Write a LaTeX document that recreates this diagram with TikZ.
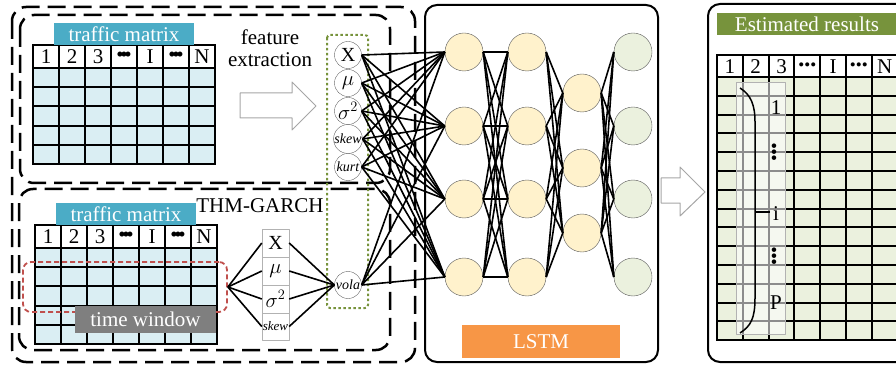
\documentclass[tikz,border=0pt]{standalone}
\usepackage{fontspec}
\setmainfont{Liberation Serif}
\usepackage{xcolor}
\usetikzlibrary{arrows.meta, positioning, calc}
\definecolor{tmblue}{HTML}{4BACC6}
\definecolor{cellblue}{HTML}{DAEEF3}
\definecolor{cellgreen}{HTML}{EBF1DE}
\definecolor{olivegreen}{HTML}{77933C}
\definecolor{lstmorange}{HTML}{F79646}
\definecolor{nodeyellow}{HTML}{FFF2CC}
\definecolor{winred}{HTML}{C0504D}
\definecolor{tagray}{HTML}{7F7F7F}
\newcommand{\dashbar}{\textbullet\kern-.16em\textbullet\kern-.16em\textbullet}
\newcommand{\dotrow}{{\fontsize{17}{17}\selectfont\textbullet\textbullet\textbullet}}
\newcommand{\dotcol}{{\fontsize{19}{19}\selectfont\rotatebox{90}{\textbullet\kern-.05em\textbullet\kern-.05em\textbullet}}}

\begin{document}
\begin{tikzpicture}[x=1pt, y=-1pt, line join=round,
  txt/.style={font=\fontsize{21}{22}\selectfont, inner sep=0pt},
  tag/.style={txt, text=white, minimum height=22pt},
  gridline/.style={line width=2pt, line cap=rect},
  frame/.style={dash pattern=on 18pt off 8pt, line width=2.5pt, rounded corners=14pt},
  feat/.style={circle, draw=gray!80!black, fill=white, minimum size=27pt, inner sep=0pt},
  sbox/.style={draw=gray!60, fill=white, minimum width=27pt, minimum height=28pt, inner sep=0pt},
  neuron/.style={circle, draw=gray!70!black, fill=nodeyellow, minimum size=38pt, inner sep=0pt},
  outn/.style={neuron, fill=cellgreen},
  wire/.style={line width=1.6pt},
  hollow/.style={draw=gray!70, fill=white, line width=1pt}]
  \useasboundingbox (0,0) rectangle (896,366);
  \clip (0,0) rectangle (896,366);

  % Dashed frames
  \draw[frame] (12,7) rectangle (415,362);
  \draw[frame] (20,15) rectangle (390,183);
  \draw[frame] (19,189) rectangle (390,350);

  % Traffic matrices
  \foreach \dx/\dy/\k in {0/0/a, 2/180/b} {
    \begin{scope}[shift={(\dx,\dy)}]
      \fill[cellblue] (33,68) rectangle (215,164);
      \foreach \i in {0,...,7} \draw[gridline] (33+\i*26,45) -- (33+\i*26,164);
      \foreach \j in {0,...,5} \draw[gridline] (33,68+\j*19.2) -- (215,68+\j*19.2);
      \draw[gridline] (33,45) -- (215,45);
      \foreach \t [count=\i from 0] in {1,2,3,\dashbar,I,\dashbar,N}
        \node[txt] (h\k-\i) at (46+\i*26,57) {\t};
      \node[tag, fill=tmblue, minimum width=140pt] (tm\k) at (124,34) {traffic matrix};
    \end{scope}
  }
  \node[txt] (fe) at (270,48) [align=center] {feature\\extraction};
  \node[txt] (garch) at (260,206) {THM-GARCH};

  % Time window
  \node[draw=winred, line width=1.8pt, dash pattern=on 5pt off 3pt, rounded corners=8pt,
        minimum width=204pt, minimum height=50pt] (twin) at (125,287) {};
  \node[tag, fill=tagray, minimum width=141pt, minimum height=27pt] (tw) at (145.5,319.5) {time window};

  % Hollow arrows
  \draw[hollow] (240,93) -- (292,93) -- (292,82) -- (316,106) -- (292,130) -- (292,118) -- (240,118) -- cycle;
  \draw[hollow] (661,178) -- (680,178) -- (680,167) -- (705,192) -- (680,216) -- (680,203) -- (661,203) -- cycle;

  % Feature boxes of THM-GARCH
  \node[sbox] (sX) at (275.5,243) {\fontsize{20}{20}\selectfont X};
  \node[sbox] (sMu) at (275.5,271) {\fontsize{20}{20}\selectfont$\mu$};
  \node[sbox] (sSig) at (275.5,299) {\fontsize{20}{20}\selectfont$\sigma^2$};
  \node[sbox, minimum height=27pt] (sSkew) at (275.5,326.5) {\fontsize{13}{13}\selectfont\textit{skew}};

  % Input features
  \draw[olivegreen, line width=2pt, dash pattern=on 2.5pt off 2.5pt, rounded corners=3pt] (327,35) rectangle (368,308);
  \node[feat] (fX) at (348,55) {\fontsize{20}{20}\selectfont X};
  \node[feat] (fMu) at (348,83) {\fontsize{20}{20}\selectfont$\mu$};
  \node[feat] (fSig) at (348,111) {\fontsize{20}{20}\selectfont$\sigma^2$};
  \node[feat] (fSkew) at (348,139) {\fontsize{14}{14}\selectfont\textit{skew}};
  \node[feat] (fKurt) at (348,167) {\fontsize{14}{14}\selectfont\textit{kurt}};
  \node[feat] (vola) at (348,285) {\fontsize{14}{14}\selectfont\textit{vola}};

  \foreach \b in {sX,sMu,sSig,sSkew} {
    \draw[wire] (twin.east) -- (\b.west);
    \draw[wire] (\b.east) -- (vola.west);
  }

  % LSTM
  \draw[line width=2pt, rounded corners=12pt] (425,5) rectangle (658,362);
  \node[tag, fill=lstmorange, minimum width=158pt, minimum height=33pt] (lstm) at (541,341.5) {LSTM};
  \foreach \y [count=\i] in {52,126,199,277} {
    \node[neuron] (l1-\i) at (464,\y) {};
    \node[neuron] (l2-\i) at (527,\y) {};
    \node[outn] (o-\i) at (633,\y) {};
  }
  \foreach \y [count=\i] in {93,168,233} \node[neuron] (l3-\i) at (582,\y) {};

  \foreach \a in {fX,fMu,fSig,fSkew,fKurt,vola}
    \foreach \b in {1,...,4} \draw[wire] (\a.east) -- (l1-\b.west);
  \foreach \a in {1,...,4}
    \foreach \b in {1,...,4} \draw[wire] (l1-\a.east) -- (l2-\b.west);
  \foreach \a in {1,...,4}
    \foreach \b in {1,...,3} \draw[wire] (l2-\a.east) -- (l3-\b.west);
  \foreach \a in {1,...,3}
    \foreach \b in {1,...,4} \draw[wire] (l3-\a.east) -- (o-\b.west);

  % Estimated results
  \draw[line width=2pt, rounded corners=12pt] (708,4) rectangle (920,362);
  \node[tag, fill=olivegreen, minimum width=180pt] (est) at (807,24) {Estimated results};
  \fill[cellgreen] (717,77) rectangle (897.6,340.2);
  \foreach \i in {0,...,7} \draw[gridline] (717+\i*25.8,55) -- (717+\i*25.8,340.2);
  \foreach \j in {0,...,14} \draw[gridline] (717,77+\j*18.8) -- (897.6,77+\j*18.8);
  \draw[gridline] (717,55) -- (897.6,55);
  \foreach \t [count=\i from 0] in {1,2,3,\dotrow,I,\dotrow,N}
    \node[txt] (e-\i) at (729.9+\i*25.8,67) {\t};

  \draw[gray!60, fill=white, fill opacity=.55, line width=1pt] (736,83) rectangle (785,334);
  \draw[line width=1.5pt] (740,88) .. controls (751,95) and (755,105) .. (755,122) -- (755,298)
    .. controls (755,318) and (751,326) .. (740,333);
  \coordinate (tip) at (755,212);
  \node[txt] (r1) at (776,108) {1};
  \node[txt] (rd1) at (776,152) {\dotcol};
  \node[txt] (ri) at (776,214) {i};
  \node[txt] (rd2) at (776,256) {\dotcol};
  \node[txt] (rP) at (776,303) {P};
  \draw[line width=1.5pt, shorten >=3pt] (tip) -- (ri.west |- tip);
\end{tikzpicture}
\end{document}
